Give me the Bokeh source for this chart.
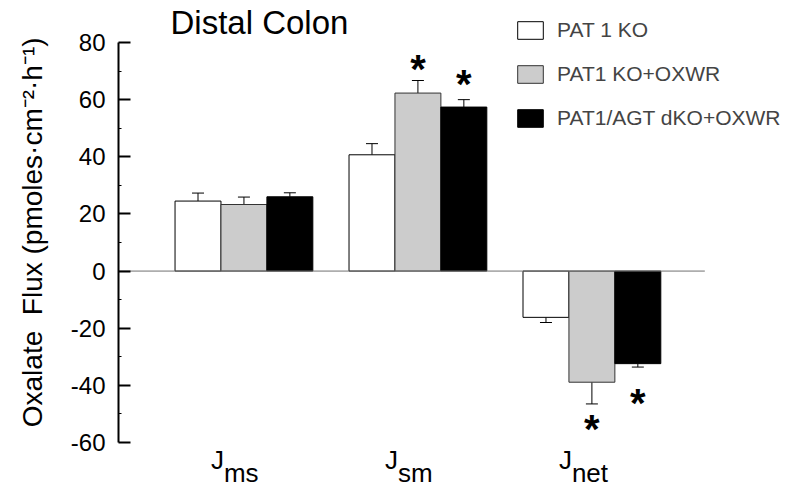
from bokeh.plotting import figure
from bokeh.models import (ColumnDataSource, Range1d, FixedTicker, Whisker,
                          TeeHead, Legend, LegendItem)
from bokeh.core.properties import value
from bokeh.embed import file_html
from bokeh.resources import INLINE

# ---- data ----
groups = ["ms", "sm", "net"]
series_names = ["PAT 1 KO", "PAT1 KO+OXWR", "PAT1/AGT dKO+OXWR"]
pat1_ko = [24.5, 40.7, -16.2]
pat1_ko_oxwr = [23.3, 62.3, -38.9]
dko_oxwr = [26.0, 57.4, -32.4]
pat1_ko_sem = [2.8, 3.9, 1.8]
pat1_ko_oxwr_sem = [2.6, 4.4, 7.6]
dko_oxwr_sem = [1.4, 2.6, 1.2]
# significance marks: (group index, series index, y position)
star_group = [1, 1, 2, 2]
star_series = [1, 2, 1, 2]
star_y = [74.0, 68.8, -52.2, -43.0]
y_ticks = [-60, -40, -20, 0, 20, 40, 60, 80]
y_minor = [-50, -30, -10, 10, 30, 50, 70]
title_text = "Distal Colon"

values = [pat1_ko, pat1_ko_oxwr, dko_oxwr]
sems = [pat1_ko_sem, pat1_ko_oxwr_sem, dko_oxwr_sem]
fills = ["white", "#cccccc", "black"]
lines = ["black", "#333333", "black"]

FONT = "Liberation Sans"
BW = 0.264  # bar width in group units
X0 = -0.721
X_ZERO_END = 2.649

p = figure(width=784, height=487, output_backend="svg", toolbar_location=None,
           x_range=Range1d(X0, 3.107), y_range=Range1d(-75.75, 94.7),
           min_border_left=118, min_border_right=0, min_border_top=0,
           min_border_bottom=0)
p.outline_line_color = None
p.xgrid.visible = False
p.ygrid.visible = False
p.xaxis.visible = False
p.background_fill_color = "white"

yax = p.yaxis[0]
yax.bounds = (y_ticks[0], y_ticks[-1])
yax.ticker = FixedTicker(ticks=y_ticks, minor_ticks=y_minor)
yax.major_label_overrides = {t: str(t) for t in y_ticks}
yax.axis_line_width = 2
yax.axis_line_color = "black"
yax.major_tick_in = 12
yax.major_tick_out = 0
yax.minor_tick_in = 3
yax.minor_tick_out = 0
yax.major_tick_line_width = 2
yax.minor_tick_line_width = 1
yax.major_label_text_font = FONT
yax.major_label_text_font_size = "24px"
yax.major_label_text_color = "black"
yax.major_label_standoff = 13
yax.axis_label = "\u00a0\u00a0\u00a0Oxalate\u00a0 Flux (pmoles\u00b7cm\u207b\u00b2\u00b7h\u207b\u00b9)"
yax.axis_label_text_font = FONT
yax.axis_label_text_font_size = "28px"
yax.axis_label_text_font_style = "normal"
yax.axis_label_text_color = "black"
yax.axis_label_standoff = 20

# title
p.text(x=[X0], y=[87.1], text=[title_text], x_offset=52, text_align="left",
       text_baseline="alphabetic", text_font=value(FONT), text_font_size="33px",
       text_color="black")

legend_items = []
for si in range(3):
    xs = [g + (si - 1) * BW for g in range(len(groups))]
    src = ColumnDataSource(dict(x=xs, top=values[si]))
    r = p.vbar(x="x", top="top", bottom=0, width=BW, source=src,
               fill_color=fills[si], line_color=lines[si], line_width=1)
    legend_items.append(LegendItem(label=series_names[si], renderers=[r]))

    # error bars: away from zero
    pos_x, pos_lo, pos_hi, neg_x, neg_lo, neg_hi = [], [], [], [], [], []
    for x, v, e in zip(xs, values[si], sems[si]):
        if v >= 0:
            pos_x.append(x); pos_lo.append(v); pos_hi.append(v + e)
        else:
            neg_x.append(x); neg_lo.append(v - e); neg_hi.append(v)
    if pos_x:
        ws = ColumnDataSource(dict(base=pos_x, lower=pos_lo, upper=pos_hi))
        p.add_layout(Whisker(source=ws, base="base", lower="lower", upper="upper",
                             line_color="black", line_width=1, lower_head=None,
                             upper_head=TeeHead(size=12, line_color="black", line_width=1)))
    if neg_x:
        ws = ColumnDataSource(dict(base=neg_x, lower=neg_lo, upper=neg_hi))
        p.add_layout(Whisker(source=ws, base="base", lower="lower", upper="upper",
                             line_color="black", line_width=1, upper_head=None,
                             lower_head=TeeHead(size=12, line_color="black", line_width=1)))

# zero line
p.segment(x0=[X0], y0=[0], x1=[X_ZERO_END], y1=[0], line_color="#707070", line_width=1)

star_src = ColumnDataSource(dict(x=[g + (s - 1) * BW for g, s in zip(star_group, star_series)],
                                 y=star_y, t=["*"] * len(star_y)))
p.text(x="x", y="y", text="t", source=star_src, text_font=value(FONT),
       text_font_size="40px", text_font_style="bold", text_align="center",
       text_baseline="middle", y_offset=9, text_color="black")

# category labels J with subscripts
gx = list(range(len(groups)))
p.text(x=gx, y=[-66.0] * len(gx), text=["J"] * len(gx), x_offset=-33,
       text_align="left", text_baseline="alphabetic", text_font=value(FONT),
       text_font_size="26px", text_color="black")
p.text(x=gx, y=[-70.5] * len(gx), text=groups, x_offset=-20,
       text_align="left", text_baseline="alphabetic", text_font=value(FONT),
       text_font_size="26px", text_color="black")

legend = Legend(items=legend_items, location=(396, 357), padding=0, margin=0,
                border_line_color=None, background_fill_alpha=0,
                glyph_width=32, glyph_height=22, label_height=22, spacing=20,
                label_standoff=11, label_text_font=FONT, label_text_font_size="21px",
                label_text_baseline="middle")
p.add_layout(legend)

open("out.html", "w").write(file_html(p, INLINE))
